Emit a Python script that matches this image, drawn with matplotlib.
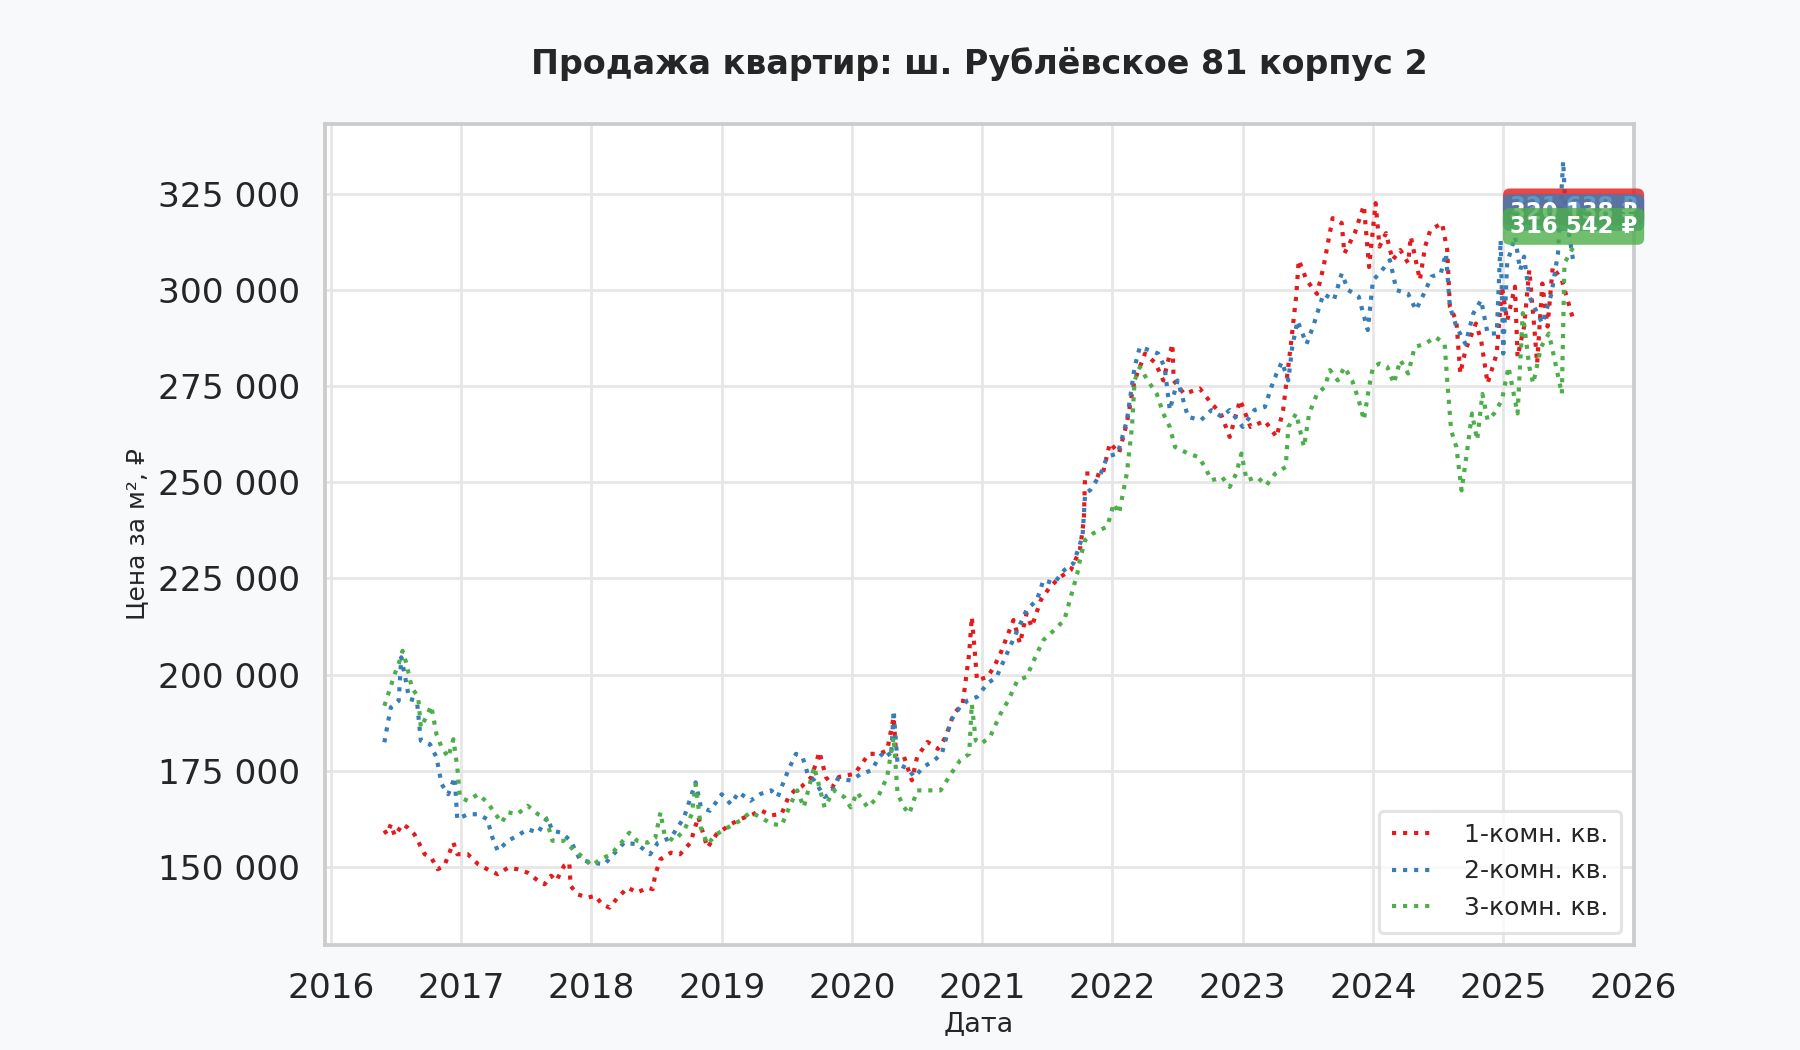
import matplotlib
matplotlib.use("Agg")
import matplotlib.pyplot as plt
from matplotlib.ticker import FuncFormatter

# --- data (decimal year, thousand rubles per m2) ---
red_years = [2016.41, 2016.43, 2016.46, 2016.49, 2016.55, 2016.59, 2016.64, 2016.68, 2016.72, 2016.77,
             2016.82, 2016.87, 2016.94, 2016.97, 2017.05, 2017.13, 2017.22, 2017.28, 2017.36, 2017.43,
             2017.51, 2017.59, 2017.64, 2017.69, 2017.73, 2017.79, 2017.83, 2017.84, 2017.89, 2017.97,
             2018.03, 2018.08, 2018.14, 2018.20, 2018.28, 2018.35, 2018.43, 2018.47, 2018.49, 2018.53,
             2018.61, 2018.68, 2018.76, 2018.82, 2018.89, 2018.96, 2019.07, 2019.14, 2019.24, 2019.30,
             2019.38, 2019.46, 2019.51, 2019.56, 2019.61, 2019.69, 2019.75, 2019.80, 2019.85, 2019.90,
             2020.02, 2020.13, 2020.21, 2020.27, 2020.32, 2020.34, 2020.40, 2020.46, 2020.50, 2020.58,
             2020.66, 2020.72, 2020.78, 2020.85, 2020.87, 2020.90, 2020.92, 2020.94, 2020.96, 2021.04,
             2021.09, 2021.14, 2021.24, 2021.29, 2021.34, 2021.38, 2021.45, 2021.52, 2021.60, 2021.68,
             2021.75, 2021.78, 2021.79, 2021.85, 2021.92, 2021.98, 2022.05, 2022.11, 2022.15, 2022.17,
             2022.25, 2022.33, 2022.39, 2022.46, 2022.47, 2022.55, 2022.67, 2022.76, 2022.83, 2022.90,
             2022.98, 2023.06, 2023.17, 2023.26, 2023.31, 2023.37, 2023.41, 2023.43, 2023.49, 2023.57,
             2023.62, 2023.69, 2023.76, 2023.78, 2023.86, 2023.93, 2023.97, 2024.02, 2024.05, 2024.10,
             2024.15, 2024.21, 2024.27, 2024.29, 2024.36, 2024.40, 2024.44, 2024.53, 2024.57, 2024.59,
             2024.64, 2024.67, 2024.71, 2024.79, 2024.83, 2024.88, 2024.95, 2024.99, 2025.03, 2025.09,
             2025.11, 2025.16, 2025.20, 2025.24, 2025.26, 2025.30, 2025.34, 2025.38, 2025.45, 2025.54]
red_vals = [159.5, 158.5, 161.1, 158.1, 161.1, 160.2, 158.5, 155.9, 153.3, 152.4,
            149.4, 150.3, 156.3, 153.3, 153.3, 150.7, 149.0, 148.1, 149.8, 149.4,
            148.5, 146.4, 145.5, 147.7, 146.4, 150.3, 151.1, 145.1, 142.9, 142.0,
            142.5, 140.3, 139.4, 142.0, 144.6, 143.3, 144.6, 144.2, 148.1, 152.0,
            153.7, 153.3, 156.3, 163.0, 155.0, 158.5, 161.1, 162.4, 163.7, 164.7,
            163.4, 163.8, 168.0, 169.9, 170.8, 173.4, 179.9, 173.4, 170.8, 173.4,
            174.2, 179.4, 179.4, 180.3, 189.0, 178.6, 178.6, 172.5, 178.6, 182.5,
            180.7, 183.8, 189.8, 192.4, 197.7, 205.5, 215.0, 207.2, 198.5, 199.4,
            202.0, 205.5, 214.2, 208.1, 215.9, 212.4, 219.4, 222.8, 225.4, 227.2,
            232.4, 240.2, 252.3, 252.3, 251.5, 260.2, 257.6, 265.4, 273.0, 276.5,
            283.5, 281.0, 276.5, 286.0, 276.5, 273.0, 274.4, 270.5, 268.0, 261.8,
            271.4, 264.4, 266.0, 261.8, 268.8, 286.0, 298.3, 307.8, 302.6, 299.0,
            306.0, 318.7, 317.4, 309.5, 314.8, 322.0, 306.0, 322.6, 311.3, 314.8,
            307.8, 310.4, 307.0, 313.9, 302.6, 311.3, 315.6, 317.4, 310.4, 295.7,
            292.0, 278.3, 284.4, 291.3, 287.0, 275.7, 283.5, 300.9, 292.0, 300.9,
            282.6, 290.5, 305.2, 289.6, 280.9, 301.7, 290.5, 306.0, 302.6, 292.0]

blue_years = [2016.41, 2016.44, 2016.46, 2016.52, 2016.54, 2016.57, 2016.60, 2016.66, 2016.69, 2016.76,
              2016.81, 2016.85, 2016.90, 2016.95, 2016.97, 2017.05, 2017.13, 2017.20, 2017.24, 2017.28,
              2017.36, 2017.43, 2017.51, 2017.59, 2017.66, 2017.70, 2017.77, 2017.84, 2017.91, 2018.00,
              2018.10, 2018.17, 2018.25, 2018.35, 2018.45, 2018.51, 2018.61, 2018.71, 2018.80, 2018.84,
              2018.91, 2019.00, 2019.07, 2019.13, 2019.22, 2019.30, 2019.38, 2019.43, 2019.51, 2019.57,
              2019.62, 2019.66, 2019.71, 2019.79, 2019.84, 2019.89, 2019.99, 2020.07, 2020.15, 2020.21,
              2020.26, 2020.30, 2020.32, 2020.35, 2020.43, 2020.48, 2020.55, 2020.63, 2020.69, 2020.76,
              2020.83, 2020.89, 2020.96, 2021.04, 2021.11, 2021.19, 2021.27, 2021.34, 2021.42, 2021.47,
              2021.55, 2021.63, 2021.70, 2021.77, 2021.79, 2021.83, 2021.91, 2021.96, 2022.04, 2022.11,
              2022.17, 2022.21, 2022.28, 2022.35, 2022.40, 2022.44, 2022.50, 2022.58, 2022.68, 2022.76,
              2022.84, 2022.90, 2023.00, 2023.09, 2023.17, 2023.22, 2023.26, 2023.30, 2023.35, 2023.38,
              2023.42, 2023.49, 2023.54, 2023.58, 2023.62, 2023.70, 2023.76, 2023.81, 2023.89, 2023.96,
              2024.00, 2024.05, 2024.13, 2024.18, 2024.27, 2024.33, 2024.39, 2024.45, 2024.52, 2024.56,
              2024.59, 2024.64, 2024.71, 2024.77, 2024.83, 2024.88, 2024.95, 2024.98, 2025.00, 2025.03,
              2025.09, 2025.13, 2025.16, 2025.20, 2025.25, 2025.30, 2025.37, 2025.42, 2025.46, 2025.48,
              2025.54]
blue_vals = [182.4, 188.0, 191.5, 193.2, 204.5, 199.3, 193.7, 193.2, 182.8, 181.9,
             178.5, 171.5, 168.9, 173.3, 162.4, 163.7, 163.7, 162.4, 157.6, 154.2,
             156.8, 158.1, 159.8, 158.9, 162.8, 159.4, 158.9, 156.8, 152.0, 151.1,
             150.7, 153.3, 156.3, 155.9, 153.3, 156.3, 157.6, 162.8, 172.0, 165.5,
             164.6, 168.9, 166.3, 169.4, 167.2, 169.0, 169.9, 168.2, 175.1, 179.4,
             178.6, 174.2, 172.5, 168.2, 169.0, 172.9, 172.5, 174.2, 175.1, 178.6,
             180.3, 178.6, 190.7, 176.8, 175.5, 173.4, 176.0, 177.7, 179.4, 188.1,
             191.6, 193.3, 194.2, 197.7, 199.4, 205.5, 211.5, 216.8, 219.4, 224.6,
             223.7, 227.2, 228.9, 235.9, 247.1, 248.0, 252.3, 256.7, 257.5, 266.0,
             280.0, 285.2, 284.4, 283.5, 280.0, 268.8, 276.5, 267.0, 266.2, 268.8,
             267.0, 268.8, 264.4, 268.8, 269.6, 274.8, 278.3, 281.3, 276.5, 285.2,
             292.0, 286.0, 290.5, 294.8, 299.0, 297.4, 304.3, 300.0, 298.3, 289.6,
             302.6, 304.3, 307.8, 300.0, 299.0, 294.8, 299.0, 303.5, 304.3, 309.5,
             295.7, 290.5, 286.0, 293.9, 297.4, 288.7, 288.7, 313.0, 283.5, 307.0,
             313.9, 305.2, 308.7, 298.3, 294.8, 291.3, 299.0, 309.5, 333.5, 320.0,
             307.0]

green_years = [2016.41, 2016.49, 2016.52, 2016.55, 2016.58, 2016.62, 2016.67, 2016.69, 2016.73, 2016.77,
               2016.81, 2016.85, 2016.90, 2016.94, 2016.97, 2016.99, 2017.05, 2017.13, 2017.20, 2017.31,
               2017.36, 2017.43, 2017.51, 2017.59, 2017.65, 2017.70, 2017.79, 2017.87, 2017.94, 2018.00,
               2018.07, 2018.15, 2018.22, 2018.29, 2018.35, 2018.43, 2018.49, 2018.53, 2018.56, 2018.63,
               2018.71, 2018.77, 2018.80, 2018.84, 2018.89, 2018.96, 2019.07, 2019.14, 2019.22, 2019.30,
               2019.38, 2019.46, 2019.53, 2019.58, 2019.63, 2019.71, 2019.79, 2019.86, 2019.94, 2019.99,
               2020.04, 2020.12, 2020.20, 2020.27, 2020.32, 2020.35, 2020.40, 2020.44, 2020.50, 2020.58,
               2020.68, 2020.76, 2020.83, 2020.90, 2020.92, 2020.95, 2020.99, 2021.06, 2021.14, 2021.20,
               2021.27, 2021.34, 2021.42, 2021.47, 2021.55, 2021.63, 2021.68, 2021.73, 2021.75, 2021.79,
               2021.85, 2021.96, 2022.01, 2022.05, 2022.11, 2022.15, 2022.17, 2022.21, 2022.27, 2022.34,
               2022.39, 2022.44, 2022.48, 2022.58, 2022.66, 2022.71, 2022.76, 2022.84, 2022.90, 2022.95,
               2022.99, 2023.03, 2023.11, 2023.18, 2023.25, 2023.33, 2023.35, 2023.41, 2023.47, 2023.51,
               2023.57, 2023.63, 2023.67, 2023.73, 2023.78, 2023.84, 2023.89, 2023.93, 2023.97, 2024.00,
               2024.05, 2024.11, 2024.16, 2024.21, 2024.27, 2024.32, 2024.40, 2024.48, 2024.55, 2024.57,
               2024.60, 2024.64, 2024.68, 2024.72, 2024.76, 2024.80, 2024.84, 2024.88, 2024.93, 2024.99,
               2025.04, 2025.11, 2025.15, 2025.20, 2025.23, 2025.29, 2025.35, 2025.39, 2025.45, 2025.47,
               2025.54]
green_vals = [191.9, 200.2, 202.8, 206.2, 202.8, 196.7, 194.1, 186.3, 188.9, 191.9,
              184.5, 181.1, 178.5, 183.2, 175.9, 168.1, 167.2, 168.9, 166.8, 161.5,
              164.2, 163.7, 165.9, 163.7, 162.8, 156.8, 156.8, 154.2, 152.4, 150.3,
              152.0, 153.3, 155.9, 158.9, 156.8, 156.3, 157.6, 164.2, 158.5, 156.8,
              159.4, 163.7, 171.5, 160.2, 155.9, 158.5, 160.7, 162.0, 164.2, 162.9,
              161.2, 160.8, 166.4, 169.9, 165.5, 176.0, 165.5, 169.9, 168.2, 165.5,
              169.4, 165.5, 168.2, 173.4, 183.8, 169.0, 165.5, 163.8, 169.9, 169.9,
              169.9, 174.2, 177.7, 179.4, 192.4, 182.9, 182.0, 183.8, 189.8, 193.3,
              198.5, 199.4, 205.5, 209.0, 211.5, 214.2, 220.2, 226.3, 229.8, 235.0,
              236.7, 238.5, 244.5, 241.9, 252.3, 264.5, 276.5, 280.0, 276.5, 273.0,
              267.9, 264.4, 259.2, 257.5, 256.6, 254.0, 250.5, 251.4, 248.8, 252.3,
              257.5, 250.5, 251.4, 249.2, 252.3, 254.0, 264.4, 267.9, 259.2, 267.9,
              273.0, 274.8, 279.2, 276.5, 280.0, 276.5, 271.4, 266.2, 274.8, 280.0,
              280.9, 280.0, 275.7, 281.8, 278.3, 285.2, 286.0, 287.8, 286.0, 276.5,
              263.5, 259.2, 247.9, 257.5, 267.9, 261.0, 273.0, 266.2, 267.9, 271.4,
              280.0, 267.9, 294.0, 280.0, 275.7, 285.2, 288.7, 282.6, 273.0, 307.0,
              311.3]

series_names = ["1-комн. кв.", "2-комн. кв.", "3-комн. кв."]
series_colors = ["#e41a1c", "#377eb8", "#4daf4a"]
last_labels = [321638, 320138, 316542]

plt.rcParams["font.family"] = ["DejaVu Sans"]
plt.rcParams["text.color"] = "#262626"
plt.rcParams["axes.labelcolor"] = "#262626"
plt.rcParams["xtick.color"] = "#262626"
plt.rcParams["ytick.color"] = "#262626"

fig = plt.figure(figsize=(12, 7), dpi=150, facecolor="#f8f9fb")
ax = fig.add_axes([0.1805, 0.100, 0.727, 0.782])
ax.set_facecolor("white")

all_years = [red_years, blue_years, green_years]
all_vals = [red_vals, blue_vals, green_vals]

for yrs, vals, name, col in zip(all_years, all_vals, series_names, series_colors):
    ax.plot(yrs, [v * 1000 for v in vals], linestyle=":", linewidth=2.0,
            color=col, label=name)

# value labels at the last point of every series
for yrs, lab, col in zip(all_years, last_labels, series_colors):
    txt = f"{lab:,.0f}".replace(",", " ") + " ₽"
    ax.text(yrs[-1], lab, txt, ha="center", va="center", fontsize=11,
            fontweight="bold", color="white", clip_on=False,
            bbox=dict(boxstyle="round,pad=0.3", facecolor=col, edgecolor="none", alpha=0.8))

ax.set_xticks(range(2016, 2027))
ax.xaxis.set_major_formatter(FuncFormatter(lambda x, p: f"{int(x)}"))
ax.yaxis.set_major_formatter(FuncFormatter(lambda x, p: f"{x:,.0f}".replace(",", " ")))
ax.set_yticks(range(150000, 325001, 25000))
ax.tick_params(axis="both", labelsize=16.5, length=0)
ax.tick_params(axis="y", pad=12)
ax.tick_params(axis="x", pad=13)

ax.grid(True, color="#e6e6e6", linewidth=1.3)
ax.set_axisbelow(True)
for sp in ax.spines.values():
    sp.set_color("#cccccc")
    sp.set_linewidth(1.8)

ax.set_title("Продажа квартир: ш. Рублёвское 81 корпус 2", fontsize=16,
             fontweight="bold", pad=24)
ax.set_xlabel("Дата", fontsize=13, labelpad=3)
ax.set_ylabel("Цена за м², ₽", fontsize=12, labelpad=4)

leg = ax.legend(loc="lower right", fontsize=12, frameon=True, fancybox=True,
                borderpad=0.5, handlelength=1.7, handletextpad=1.2)
leg.get_frame().set_edgecolor("#dddddd")
leg.get_frame().set_linewidth(1.5)

fig.savefig("out.png", dpi=150, facecolor=fig.get_facecolor())
